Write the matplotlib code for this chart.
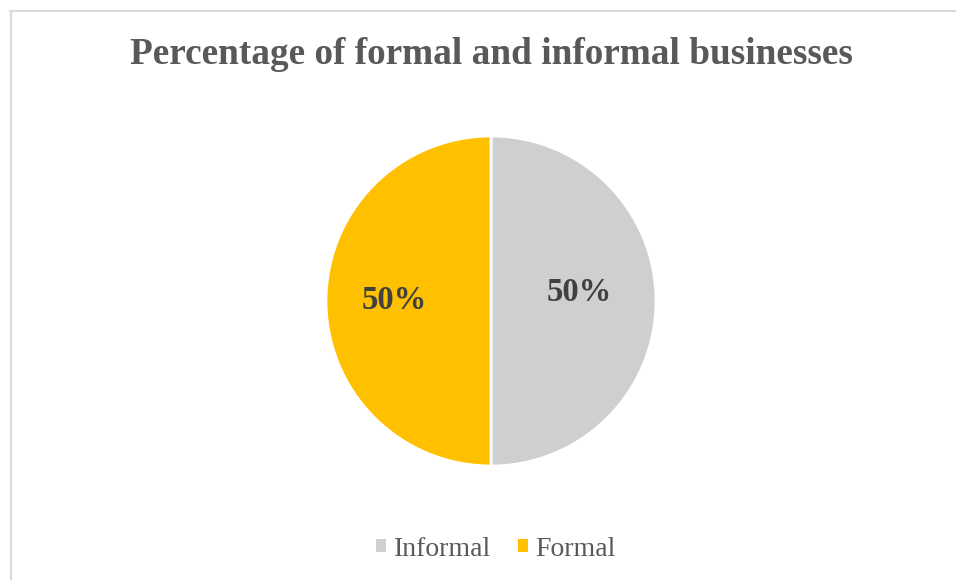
import matplotlib
matplotlib.use("Agg")
import matplotlib.pyplot as plt
from matplotlib.lines import Line2D

categories = ["Informal", "Formal"]
shares = [50, 50]
colors = ["#D0CECE", "#FFC000"]
title = "Percentage of formal and informal businesses"

plt.rcParams["font.family"] = ["Liberation Serif", "DejaVu Serif"]

W, H = 956, 580
fig = plt.figure(figsize=(W / 100, H / 100), dpi=100)
fig.patch.set_facecolor("white")

# chart area border (top and left edges visible)
border = "#D9D9D9"
fig.add_artist(Line2D([10 / W, 1.0], [1 - 11 / H, 1 - 11 / H], color=border, lw=1.5,
                      transform=fig.transFigure))
fig.add_artist(Line2D([11 / W, 11 / W], [0.0, 1 - 11 / H], color=border, lw=1.5,
                      transform=fig.transFigure))

# pie axes
cx, cy, r = 491, 301, 165
ax = fig.add_axes([(cx - r) / W, (H - cy - r) / H, 2 * r / W, 2 * r / H])
wedges, texts, autotexts = ax.pie(
    shares, colors=colors, startangle=90, counterclock=False, radius=1.0,
    autopct=lambda p: f"{p:.0f}%", pctdistance=0.57,
    wedgeprops=dict(edgecolor="white", linewidth=2),
    textprops=dict(fontsize=23.5, fontweight="bold", color="#404040"),
)
ax.set_xlim(-1, 1)
ax.set_ylim(-1, 1)
ax.set_aspect("equal")
ax.axis("off")

# nudge the value labels
x0, y0 = autotexts[0].get_position()
autotexts[0].set_position((x0 - 0.036, y0 + 0.05))
x1, y1 = autotexts[1].get_position()
autotexts[1].set_position((x1 - 0.015, y1))

fig.text(cx / W, 1 - 55 / H, title, ha="center", va="center",
         fontsize=26.8, fontweight="bold", color="#595959")

leg = fig.legend(wedges, categories, loc="center", bbox_to_anchor=(cx / W + 5 / W, 1 - 549 / H),
                 ncol=2, frameon=False, fontsize=20, handlelength=0.36, handleheight=0.36,
                 handletextpad=0.28, columnspacing=0.95, labelcolor="#595959")
for h in leg.legend_handles:
    h.set_edgecolor("none")

fig.savefig("out.png", dpi=100, facecolor="white")
